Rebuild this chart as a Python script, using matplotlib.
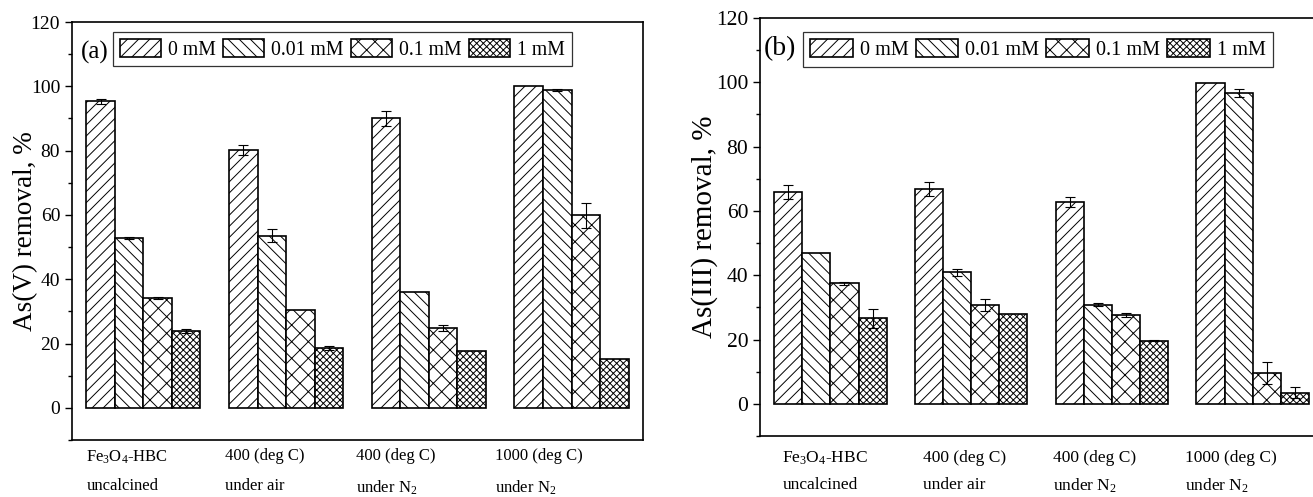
import numpy as np
import matplotlib
matplotlib.use('Agg')
import matplotlib.pyplot as plt

plt.rcParams['font.family'] = ['Liberation Serif', 'DejaVu Serif']
plt.rcParams['mathtext.fontset'] = 'custom'
plt.rcParams['mathtext.rm'] = 'Liberation Serif'
plt.rcParams['mathtext.it'] = 'Liberation Serif:italic'
plt.rcParams['mathtext.default'] = 'regular'
plt.rcParams['hatch.linewidth'] = 0.7

# data
series = ['0 mM', '0.01 mM', '0.1 mM', '1 mM']
hatches = ['///', '\\\\\\', 'xx', 'xxxxx']
line1 = ['Fe$_3$O$_4$-HBC', '400 (deg C)', '400 (deg C)', '1000 (deg C)']
line2 = ['uncalcined', 'under air', 'under N$_2$', 'under N$_2$']

# As(V): rows = concentration, cols = sample
as5 = np.array([
    [95.3, 80.2, 90.0, 100.0],
    [52.7, 53.6, 36.1, 98.9],
    [34.2, 30.5, 24.8, 59.9],
    [23.8, 18.6, 17.6, 15.2],
])
as5_err = np.array([
    [0.7, 1.6, 2.2, 0.0],
    [0.3, 2.1, 0.0, 0.3],
    [0.2, 0.0, 1.0, 3.9],
    [0.6, 0.6, 0.0, 0.0],
])
# As(III)
as3 = np.array([
    [66.0, 66.8, 62.7, 99.8],
    [47.0, 40.9, 30.9, 96.7],
    [37.5, 30.8, 27.7, 9.7],
    [26.6, 27.9, 19.6, 3.5],
])
as3_err = np.array([
    [2.2, 2.3, 1.6, 0.0],
    [0.0, 1.2, 0.5, 1.2],
    [0.4, 1.9, 0.6, 3.4],
    [2.9, 0.0, 0.2, 1.6],
])


def draw_panel(ax, vals, errs, ylabel, tag, leg_anchor, tag_pos, lab_dx,
               lab_y, ylab_x, fs):
    # fs: (ticks, ylabel, xlabels, tag, legend)
    x = np.arange(len(line1))
    w = 0.2
    for i, name in enumerate(series):
        xi = x - 0.3 + i * w
        ax.bar(xi, vals[i], w, color='white', edgecolor='black',
               linewidth=1.2, hatch=hatches[i], label=name, zorder=2)
        m = errs[i] > 0
        ax.errorbar(xi[m], vals[i][m], yerr=errs[i][m], fmt='none',
                    ecolor='black', elinewidth=0.8, capsize=3.5,
                    capthick=0.8, zorder=3)
    ax.set_xlim(-0.5, 3.5)
    ax.set_ylim(-10, 120)
    ax.set_yticks(np.arange(0, 121, 20))
    ax.set_yticks(np.arange(-10, 121, 10), minor=True)
    ax.tick_params(axis='y', which='major', direction='out', length=5,
                   width=1, labelsize=fs[0])
    ax.tick_params(axis='y', which='minor', direction='out', length=3,
                   width=1)
    ax.set_xticks([])
    for s in ax.spines.values():
        s.set_linewidth(1.2)
    ax.set_ylabel(ylabel, fontsize=fs[1])
    ax.yaxis.set_label_coords(ylab_x, 0.5)

    tr = ax.get_xaxis_transform()
    for k in range(len(line1)):
        ax.text(x[k] + lab_dx[k], lab_y[0], line1[k], transform=tr,
                ha='left', va='top', fontsize=fs[2])
        ax.text(x[k] + lab_dx[k], lab_y[1], line2[k], transform=tr,
                ha='left', va='top', fontsize=fs[2])

    ax.text(tag_pos[0], tag_pos[1], tag, transform=ax.transAxes,
            fontsize=fs[3], ha='left', va='center')
    leg = ax.legend(loc='upper left', bbox_to_anchor=leg_anchor, ncol=4,
                    fontsize=fs[4], frameon=True, fancybox=False,
                    edgecolor='black', handlelength=2.1, handleheight=1.0,
                    handletextpad=0.35, columnspacing=0.35, borderaxespad=0,
                    borderpad=0.35)
    leg.get_frame().set_linewidth(0.9)


fig = plt.figure(figsize=(13.13, 4.97), dpi=100)
ax1 = fig.add_axes((0.0548, 0.1147, 0.4349, 0.8410))
ax2 = fig.add_axes((0.5788, 0.1227, 0.4289, 0.8410))

draw_panel(ax1, as5, as5_err, 'As(V) removal, %', '(a)',
           (0.0718, 0.976), (0.015, 0.928),
           [-0.40, -0.43, -0.51, -0.54], (-0.02, -0.092), -0.06,
           (14, 19.5, 12, 18, 14.2))
draw_panel(ax2, as3, as3_err, 'As(III) removal, %', '(b)',
           (0.0763, 0.9665), (0.007, 0.928),
           [-0.34, -0.34, -0.42, -0.48], (-0.033, -0.098), -0.075,
           (15.5, 21, 12.5, 20, 14.6))

fig.savefig('out.png', dpi=100)
